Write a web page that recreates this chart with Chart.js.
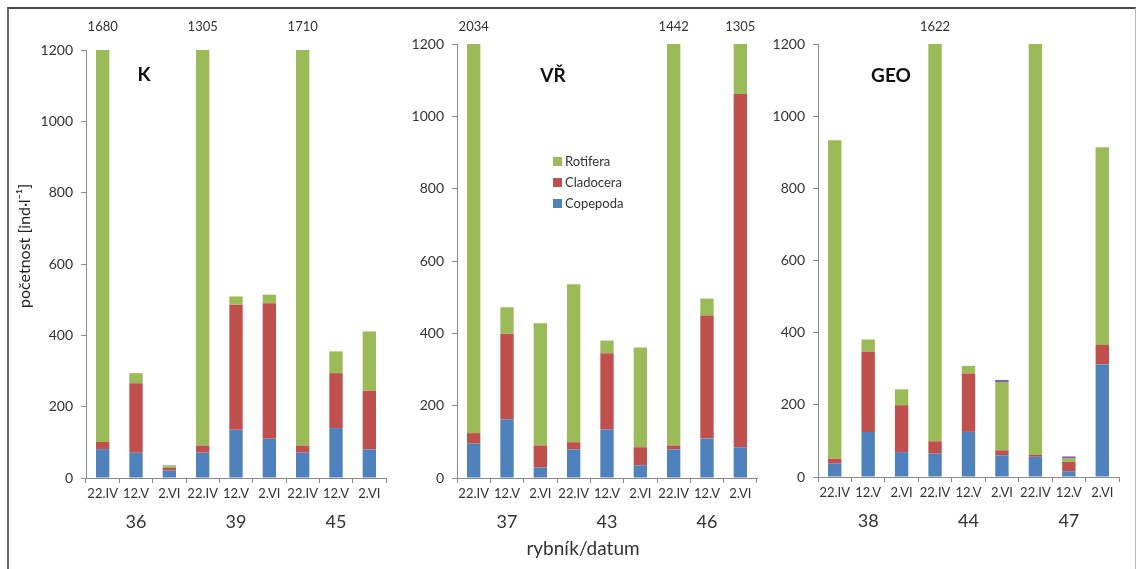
<!DOCTYPE html>
<html lang="cs">
<head>
<meta charset="utf-8">
<title>Početnost zooplanktonu</title>
<script src="https://cdn.jsdelivr.net/npm/chart.js@4/dist/chart.umd.min.js"></script>
<style>
  html, body { margin: 0; padding: 0; background: #fff; }
  #wrap { position: relative; width: 1137px; height: 569px; overflow: hidden; font-family: Lato, "Open Sans", sans-serif; }
  #frame { position: absolute; left: 7px; top: 7px; width: 1126px; height: 700px;
           border-top: 2px solid #4a4a4a; border-left: 2px solid #6a6a6a; border-right: 1px solid #b8b8b8; }
  canvas { position: absolute; left: 0; top: 0; }
  #legend { position: absolute; left: 553px; top: 151px; font-size: 13px; color: #333; line-height: 21px; }
  #legend .sw { display: inline-block; width: 9px; height: 9px; margin-right: 3px; }
</style>
</head>
<body>
<div id="wrap">
  <div id="frame"></div>
  <canvas id="cK" width="1137" height="569"></canvas>
  <canvas id="cV" width="1137" height="569"></canvas>
  <canvas id="cG" width="1137" height="569"></canvas>
  <div id="legend"></div>
</div>
<script>
// sampling dates, repeated for the three ponds of each locality
const dates = ['22.IV', '12.V', '2.VI', '22.IV', '12.V', '2.VI', '22.IV', '12.V', '2.VI'];

// pond numbers, centred under their three dates
const pondsK = ['', '36', '', '', '39', '', '', '45', ''];
const pondsV = ['', '37', '', '', '43', '', '', '46', ''];
const pondsG = ['', '38', '', '', '44', '', '', '47', ''];

// locality K  [ind·l⁻¹]
const copepodaK  = [81, 71, 21, 71, 135, 110, 71, 140, 80];
const cladoceraK = [20, 195, 7, 20, 351, 380, 20, 154, 165];
const rotiferaK  = [1579, 28, 5, 1214, 23, 24, 1619, 61, 166];
const ostatniK   = [0, 0, 2, 0, 0, 0, 0, 0, 0];

// locality VŘ
const copepodaV  = [95, 162, 29, 79, 134, 35, 79, 109, 85];
const cladoceraV = [29, 237, 61, 20, 211, 50, 11, 340, 977];
const rotiferaV  = [1910, 73, 338, 437, 35, 276, 1352, 47, 243];
const ostatniV   = [0, 0, 0, 0, 0, 0, 0, 0, 0];

// locality GEO
const copepodaG  = [37, 125, 69, 65, 125, 60, 56, 16, 312];
const cladoceraG = [14, 222, 130, 34, 162, 14, 6, 26, 54];
const rotiferaG  = [882, 34, 44, 1523, 21, 189, 1138, 9, 548];
const ostatniG   = [0, 0, 0, 0, 0, 6, 0, 6, 0];

const yTicks = { min: 0, max: 1200, step: 200 };

const COL = { copepoda: '#4F81BD', cladocera: '#C0504D', rotifera: '#9BBB59', ostatni: '#8064A2' };
const FONT = 'Lato, "Open Sans", sans-serif';
const AXIS = '#8a8a8a';
const TXT = '#333';

// text that sits outside the axes: stack totals above the cut-off bars, locality name, axis titles
const panelText = {
  id: 'panelText',
  afterDraw(chart, args, o) {
    const ctx = chart.ctx, area = chart.chartArea;
    const xs = chart.scales.x, ys = chart.scales.y;
    ctx.save();
    ctx.textAlign = 'center';
    ctx.textBaseline = 'middle';
    ctx.fillStyle = TXT;
    ctx.font = '13px ' + FONT;
    chart.data.labels.forEach((_, i) => {
      const total = chart.data.datasets.reduce((s, d) => s + (d.data[i] || 0), 0);
      if (total > ys.max) ctx.fillText(String(total), xs.getPixelForValue(i), o.totalsY);
    });
    ctx.fillStyle = '#111';
    ctx.font = 'bold 19px ' + FONT;
    ctx.fillText(o.name, area.left + o.nameDx, area.top + o.nameDy);
    if (o.yTitle) {
      ctx.save();
      ctx.translate(o.yTitle.x, o.yTitle.y);
      ctx.rotate(-Math.PI / 2);
      ctx.fillStyle = '#222';
      ctx.font = '16px ' + FONT;
      ctx.fillText(o.yTitle.text, 0, 0);
      ctx.restore();
    }
    if (o.xTitle) {
      ctx.fillStyle = '#333';
      ctx.font = '19px ' + FONT;
      ctx.fillText(o.xTitle.text, o.xTitle.x, o.xTitle.y);
    }
    ctx.restore();
  }
};

function makePanel(id, series, ponds, padding, text) {
  const datasets = [
    { label: 'Copepoda',  data: series[0], backgroundColor: COL.copepoda },
    { label: 'Cladocera', data: series[1], backgroundColor: COL.cladocera },
    { label: 'Rotifera',  data: series[2], backgroundColor: COL.rotifera },
    { label: 'Ostatní',   data: series[3], backgroundColor: COL.ostatni, inLegend: false }
  ].map(d => Object.assign(d, { borderWidth: 0, categoryPercentage: 1, barPercentage: 0.4, xAxisID: 'x', yAxisID: 'y' }));

  return new Chart(document.getElementById(id), {
    type: 'bar',
    data: { labels: dates, datasets },
    plugins: [panelText],
    options: {
      responsive: false,
      animation: false,
      events: [],
      layout: { padding },
      plugins: { legend: { display: false }, tooltip: { enabled: false }, panelText: text },
      scales: {
        x: {
          stacked: true,
          weight: 0,
          offset: true,
          grid: { offset: true, drawOnChartArea: false, tickLength: 5, color: AXIS },
          border: { color: AXIS, width: 1 },
          ticks: { color: TXT, font: { family: FONT, size: 13 }, padding: 3, maxRotation: 0, minRotation: 0, autoSkip: false },
          afterFit: s => { s.height = 24; }
        },
        g: {
          type: 'category',
          position: 'bottom',
          labels: ponds,
          weight: 1,
          offset: true,
          grid: { display: false, drawTicks: false },
          border: { display: false },
          ticks: { color: TXT, font: { family: FONT, size: 18 }, padding: 9, maxRotation: 0, minRotation: 0, autoSkip: false },
          afterFit: s => { s.height = 40; }
        },
        y: {
          stacked: true,
          min: yTicks.min,
          max: yTicks.max,
          grid: { drawOnChartArea: false, tickLength: 5, color: AXIS },
          border: { color: AXIS, width: 1 },
          ticks: { stepSize: yTicks.step, color: TXT, font: { family: FONT, size: 14 }, padding: 8,
                   callback: v => String(v) },
          afterFit: s => { s.width = 60; }
        }
      }
    }
  });
}

const chartK = makePanel('cK', [copepodaK, cladoceraK, rotiferaK, ostatniK], pondsK,
  { left: 26, right: 751, top: 50, bottom: 27 },
  { name: 'K', nameDx: 58, nameDy: 25, totalsY: 27,
    yTitle: { text: 'početnost [ind·l⁻¹]', x: 25, y: 246 } });

const chartV = makePanel('cV', [copepodaV, cladoceraV, rotiferaV, ostatniV], pondsV,
  { left: 397, right: 380, top: 44, bottom: 27 },
  { name: 'VŘ', nameDx: 96, nameDy: 32, totalsY: 27,
    xTitle: { text: 'rybník/datum', x: 583, y: 549 } });

const chartG = makePanel('cG', [copepodaG, cladoceraG, rotiferaG, ostatniG], pondsG,
  { left: 758, right: 18, top: 44, bottom: 28 },
  { name: 'GEO', nameDx: 73, nameDy: 32, totalsY: 27 });

// legend of the middle panel, top series first
const legend = document.getElementById('legend');
chartV.data.datasets.filter(d => d.inLegend !== false).slice().reverse().forEach(d => {
  const row = document.createElement('div');
  const sw = document.createElement('span');
  sw.className = 'sw';
  sw.style.background = d.backgroundColor;
  row.appendChild(sw);
  row.appendChild(document.createTextNode(d.label));
  legend.appendChild(row);
});
</script>
</body>
</html>
